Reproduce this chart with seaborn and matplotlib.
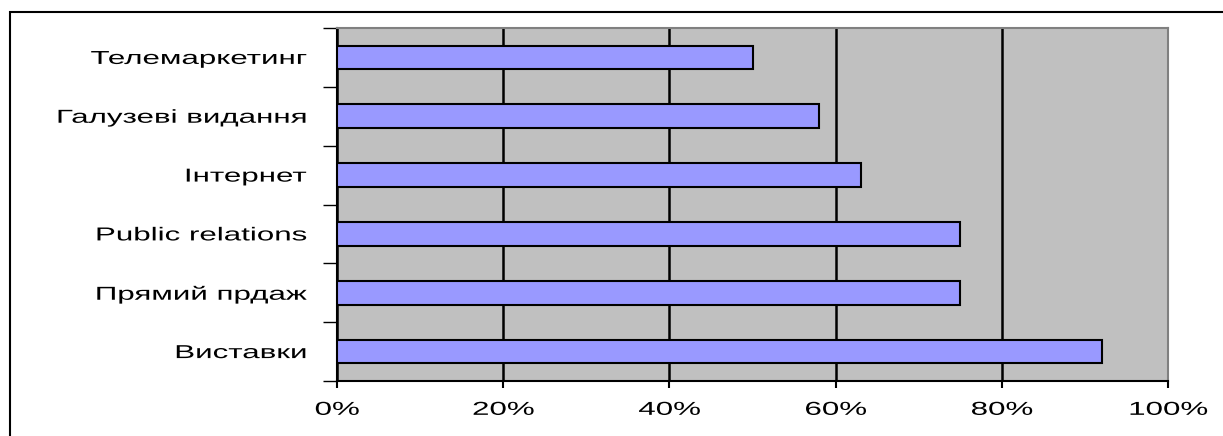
import matplotlib
matplotlib.use('Agg')
import matplotlib.pyplot as plt
import matplotlib.patheffects as pe
from matplotlib.transforms import Affine2D
import seaborn as sns
import pandas as pd
from matplotlib.patches import Rectangle
from matplotlib.ticker import FixedLocator, PercentFormatter

# дані
channels = ['Телемаркетинг', 'Галузеві видання', 'Інтернет',
            'Public relations', 'Прямий прдаж', 'Виставки']
shares = [0.50, 0.58, 0.63, 0.75, 0.75, 0.92]
x_ticks = [0, 0.2, 0.4, 0.6, 0.8, 1.0]

df = pd.DataFrame({'channel': channels, 'share': shares})


# у вихідній картинці текст розтягнутий по горизонталі
class Stretch(pe.AbstractPathEffect):
    def __init__(self, sx, anchor='right'):
        super().__init__()
        self.sx = sx
        self.anchor = anchor

    def draw_path(self, renderer, gc, tpath, affine, rgbFace=None):
        xs = tpath.vertices[:, 0]
        x0 = xs.max() if self.anchor == 'right' else (xs.min() + xs.max()) / 2
        tr = Affine2D().translate(-x0, 0).scale(self.sx, 1).translate(x0, 0) + affine
        renderer.draw_path(gc, tpath, tr, rgbFace)


sns.set_theme(style='white')
plt.rcParams['font.family'] = ['Liberation Sans', 'DejaVu Sans']

fig = plt.figure(figsize=(12.23, 4.36), dpi=100)
ax = fig.add_axes([337 / 1223, 1 - 381 / 436, (1168 - 337) / 1223, (381 - 28) / 436])
ax.set_facecolor('#C0C0C0')

sns.barplot(data=df, x='share', y='channel', orient='h', color='#9999FF',
            saturation=1, width=0.4, edgecolor='black', linewidth=1.5, ax=ax, zorder=3)

ax.set_xlim(0, 1)
ax.set_ylim(len(channels) - 0.5, -0.5)
ax.set_xticks(x_ticks)
ax.xaxis.set_major_formatter(PercentFormatter(1.0, decimals=0))
ax.grid(axis='x', color='black', linewidth=1.8, zorder=1)
ax.set_axisbelow(True)
ax.set_xlabel('')
ax.set_ylabel('')

# риски на межах категорій
ax.yaxis.set_minor_locator(FixedLocator([i - 0.5 for i in range(len(channels) + 1)]))
ax.tick_params(axis='y', which='major', length=0, pad=22, labelsize=13.5, colors='black')
ax.tick_params(axis='y', which='minor', left=True, length=10, width=1, color='black')
ax.tick_params(axis='x', which='major', bottom=True, length=5, width=1.5, color='black',
               pad=10, labelsize=13.5, labelcolor='black')

fig.canvas.draw()
for lbl in ax.get_yticklabels():
    lbl.set_path_effects([Stretch(1.67, 'right')])
for lbl in ax.get_xticklabels():
    lbl.set_path_effects([Stretch(1.67, 'center')])

for side in ['left', 'bottom']:
    ax.spines[side].set_color('black')
    ax.spines[side].set_linewidth(1.5)
for side in ['top', 'right']:
    ax.spines[side].set_color('#808080')
    ax.spines[side].set_linewidth(1.5)

# рамка діаграми
fig.patches.append(Rectangle((10.5 / 1223, -0.1), 1.2, 1.1 - 12.5 / 436,
                             transform=fig.transFigure, fill=False,
                             edgecolor='black', linewidth=1.5))

fig.savefig('out.png', dpi=100)
